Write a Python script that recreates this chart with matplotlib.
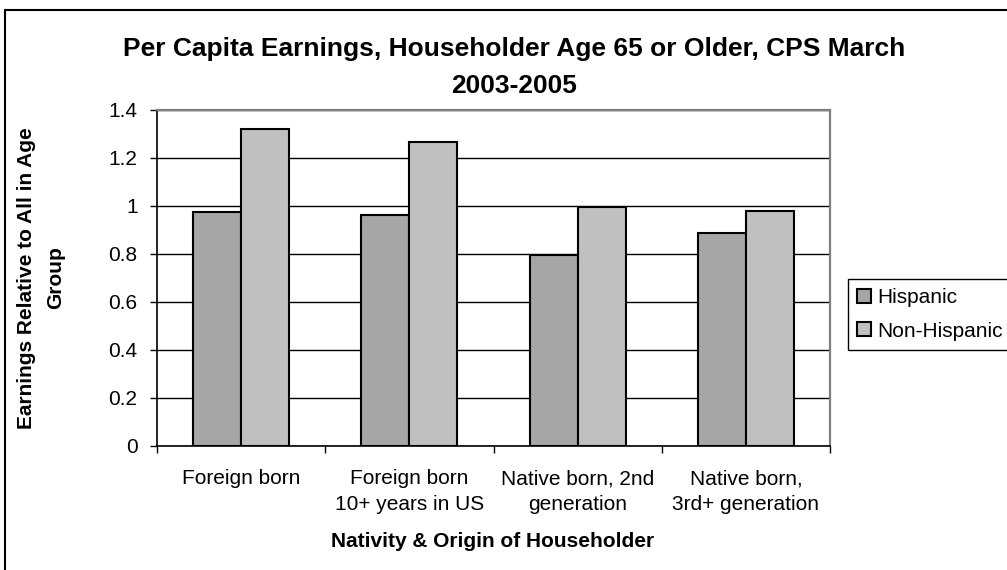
import matplotlib
matplotlib.use("Agg")
import matplotlib.pyplot as plt
from matplotlib.patches import Rectangle
import numpy as np

plt.rcParams['font.family'] = ['Liberation Sans', 'DejaVu Sans']

categories = ["Foreign born", "Foreign born\n10+ years in US",
              "Native born, 2nd\ngeneration", "Native born,\n3rd+ generation"]
hispanic = [0.975, 0.96, 0.795, 0.885]
non_hispanic = [1.32, 1.265, 0.995, 0.98]
series_names = ["Hispanic", "Non-Hispanic"]
yticks = [0, 0.2, 0.4, 0.6, 0.8, 1.0, 1.2, 1.4]
ytick_labels = ["0", "0.2", "0.4", "0.6", "0.8", "1", "1.2", "1.4"]

W, H = 1007, 570
fig = plt.figure(figsize=(W / 100, H / 100), dpi=100)
ax = fig.add_axes([157 / W, 1 - 445.7 / H, (830 - 157) / W, (445.7 - 109.7) / H])

x = np.arange(len(categories))
bw = 0.2857
ax.bar(x - bw / 2, hispanic, width=bw, color="#a6a6a6", edgecolor="black",
       linewidth=1.5, label=series_names[0], zorder=3)
ax.bar(x + bw / 2, non_hispanic, width=bw, color="#c0c0c0", edgecolor="black",
       linewidth=1.5, label=series_names[1], zorder=3)

ax.set_xlim(-0.5, len(categories) - 0.5)
ax.set_ylim(0, 1.4)
ax.set_yticks(yticks)
ax.set_yticklabels(ytick_labels, fontsize=15)
ax.set_xticks(x)
ax.set_xticklabels(categories, fontsize=15, linespacing=1.45)
ax.set_xticks(np.arange(-0.5, len(categories)), minor=True)
ax.tick_params(axis='x', which='major', length=0, pad=17)
ax.tick_params(axis='x', which='minor', length=5, width=1, direction='out', color='black')
ax.tick_params(axis='y', length=5, width=1, direction='out', pad=9)

ax.yaxis.grid(True, color="black", linewidth=1.0, zorder=0)
ax.set_axisbelow(True)
for s in ['left', 'bottom']:
    ax.spines[s].set_color('black')
    ax.spines[s].set_linewidth(1.2)
for s in ['top', 'right']:
    ax.spines[s].set_color('#808080')
    ax.spines[s].set_linewidth(1.6)

# chart border
fig.patches.append(Rectangle((5 / W, -0.1), 1.2, 1 - 10 / H + 0.1, transform=fig.transFigure,
                             fill=False, edgecolor='black', linewidth=1.5))

fig.text(514 / W, 1 - 37 / H,
         "Per Capita Earnings, Householder Age 65 or Older, CPS March\n2003-2005",
         ha='center', va='top', fontsize=19, fontweight='bold', linespacing=1.68)

fig.text(493 / W, 1 - 547 / H, "Nativity & Origin of Householder",
         ha='center', va='baseline', fontsize=15, fontweight='bold')

fig.text(41 / W, 1 - 277.7 / H, "Earnings Relative to All in Age\nGroup",
         ha='center', va='center', rotation=90, fontsize=15, fontweight='bold',
         multialignment='center', linespacing=1.65)

leg = ax.legend(loc='upper left', bbox_to_anchor=(848 / W, 1 - 279 / H),
                bbox_transform=fig.transFigure, borderaxespad=0, fontsize=15,
                frameon=True, fancybox=False, edgecolor='black', framealpha=1,
                handlelength=0.65, handleheight=0.65, handletextpad=0.3,
                borderpad=0.45, labelspacing=0.69)
leg.get_frame().set_linewidth(1.0)

fig.savefig("out.png", dpi=100)
